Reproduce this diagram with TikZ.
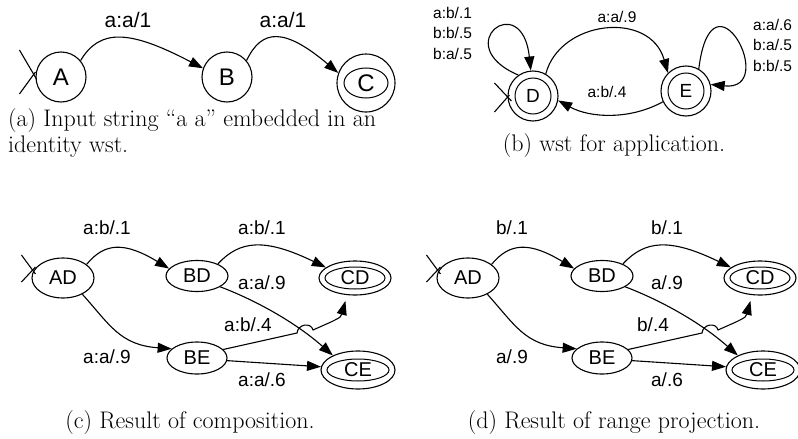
\documentclass[tikz,border=0pt]{standalone}
\usepackage{fontspec}
\setsansfont{Liberation Sans}
\usepackage{tikz}
\usetikzlibrary{arrows.meta,shapes.geometric}
\tikzset{
  wstnode/.style={draw, line width=1.1pt, inner sep=0pt},
  wststate/.style={wstnode, circle, minimum size=50pt},
  wstpair/.style={wstnode, ellipse, minimum width=62pt, minimum height=31pt},
  wstring/.style={wstnode, line width=1pt},
  wstedge/.style={-{Triangle[length=14pt,width=10pt]}, line width=1.1pt},
  wststart/.style={line width=1.1pt},
  wstafont/.style={font=\sffamily\fontsize{24}{24}\selectfont},
  wstbfont/.style={font=\sffamily\fontsize{19}{19}\selectfont},
  wstcfont/.style={font=\sffamily\fontsize{20}{20}\selectfont},
  wstalabel/.style={inner sep=0pt, font=\sffamily\fontsize{21}{21}\selectfont},
  wstblabel/.style={inner sep=0pt, font=\sffamily\fontsize{15.5}{20.5}\selectfont},
  wstclabel/.style={inner sep=0pt, font=\sffamily\fontsize{19}{19}\selectfont},
  wstcaption/.style={inner sep=0pt, font=\fontsize{24}{26}\selectfont},
}
\begin{document}
\begin{tikzpicture}[x=1pt,y=-1pt]
  \useasboundingbox (0,0) rectangle (798,439);

  % (a) input string
  \node[wststate, wstafont] (A) at (61,77) {A};
  \node[wststate, wstafont] (B) at (227,77) {B};
  \node[wststate, wstafont, minimum size=58pt] (C) at (366,83) {C};
  \node[wstring, ellipse, minimum width=44pt, minimum height=30pt] (Cring) at (C) {};
  \draw[wststart] ([shift={(-16,-27)}]A.west) -- ([shift={(1,2)}]A.west);
  \draw[wststart] ([shift={(-16,17)}]A.west) -- ([shift={(0,-5)}]A.west);
  \draw[wstedge] (A.40) .. controls (100,28) and (130,30) .. (B.160);
  \draw[wstedge] (B.40) .. controls (262,28) and (285,28) .. (C.160);
  \node[wstalabel] at (128,20) {a:a/1};
  \node[wstalabel] at (283,20) {a:a/1};
  \node[wstcaption, align=left, anchor=base west] (capa) at (8,152)
    {(a) Input string “a a” embedded in an\\identity wst.};

  % (b) wst for application
  \node[wststate, wstbfont] (D) at (533,96) {D};
  \node[wstring, circle, minimum size=36pt] (Dring) at (D) {};
  \node[wststate, wstbfont] (E) at (686,91) {E};
  \node[wstring, circle, minimum size=36pt] (Ering) at (E) {};
  \draw[wststart] ([shift={(-13,-13)}]D.west) -- ([shift={(4,5)}]D.west);
  \draw[wststart] ([shift={(-13,16)}]D.west) -- ([shift={(2,-1)}]D.west);
  \draw[wstedge] (D.125) .. controls (448,45) and (522,-12) .. (D.95);
  \draw[wstedge] (D.60) .. controls (560,20) and (650,10) .. (E.135);
  \draw[wstedge] (E.205) .. controls (630,120) and (590,118) .. (D.350);
  \draw[wstedge] (E.60) .. controls (712,-38) and (780,92) .. (E.15);
  \node[wstblabel, align=left, anchor=west] at (433,33) {a:b/.1\\b:b/.5\\b:a/.5};
  \node[wstblabel, align=left, anchor=west] at (753,45) {a:a/.6\\b:a/.5\\b:b/.5};
  \node[wstblabel] at (617,17) {a:a/.9};
  \node[wstblabel] at (607,92) {a:b/.4};
  \node[wstcaption, anchor=base] (capb) at (614,151) {(b) wst for application.};

  % (c) composition
  \node[wstpair, wstcfont, minimum height=40pt] (cAD) at (63,278) {AD};
  \node[wstpair, wstcfont] (cBD) at (197,276) {BD};
  \node[wstpair, wstcfont, minimum width=72pt, minimum height=34pt] (cCD) at (355,278) {CD};
  \node[wstring, ellipse, minimum width=60pt, minimum height=22pt] (cCDring) at (cCD) {};
  \node[wstpair, wstcfont, minimum width=60pt, minimum height=32pt] (cBE) at (197,358) {BE};
  \node[wstpair, wstcfont, minimum width=74pt, minimum height=38pt] (cCE) at (358,370) {CE};
  \node[wstring, ellipse, minimum width=62pt, minimum height=22pt] (cCEring) at (cCE) {};
  \draw[wststart] ([shift={(-10,-23)}]cAD.west) -- ([shift={(4,-4)}]cAD.west);
  \draw[wststart] ([shift={(-10,4)}]cAD.west) -- ([shift={(4,-11)}]cAD.west);
  \draw[wstedge] (cAD.30) .. controls (105,242) and (125,242) .. (cBD.165);
  \draw[wstedge] (cBD.30) .. controls (240,240) and (265,238) .. (cCD.160);
  \draw[wstedge] (cBD.-25) .. controls (255,300) and (295,322) .. (cCE.150);
  \draw[wstedge, shorten >=6pt] (cBE.18) -- (297,333) .. controls (298,324) and (311,322) .. (313,330)
    -- (331,322) .. controls (341,317) .. (cCD.-115);
  \draw[wstedge] (cBE.-5) -- (cCE.175);
  \draw[wstedge] (cAD.-40) .. controls (110,325) and (120,345) .. (cBE.160);
  \node[wstclabel] at (107,228) {a:b/.1};
  \node[wstclabel] at (262,228) {a:b/.1};
  \node[wstclabel] at (262,283) {a:a/.9};
  \node[wstclabel] at (248,325) {a:b/.4};
  \node[wstclabel] at (107,357) {a:a/.9};
  \node[wstclabel] at (262,380) {a:a/.6};
  \node[wstcaption, anchor=base] (capc) at (190,428) {(c) Result of composition.};

  % (d) range projection
  \begin{scope}[xshift=405pt]
  \node[wstpair, wstcfont, minimum height=40pt] (dAD) at (63,278) {AD};
  \node[wstpair, wstcfont] (dBD) at (197,276) {BD};
  \node[wstpair, wstcfont, minimum width=72pt, minimum height=34pt] (dCD) at (355,278) {CD};
  \node[wstring, ellipse, minimum width=60pt, minimum height=22pt] (dCDring) at (dCD) {};
  \node[wstpair, wstcfont, minimum width=60pt, minimum height=32pt] (dBE) at (197,358) {BE};
  \node[wstpair, wstcfont, minimum width=74pt, minimum height=38pt] (dCE) at (358,370) {CE};
  \node[wstring, ellipse, minimum width=62pt, minimum height=22pt] (dCEring) at (dCE) {};
  \draw[wststart] ([shift={(-10,-23)}]dAD.west) -- ([shift={(4,-4)}]dAD.west);
  \draw[wststart] ([shift={(-10,4)}]dAD.west) -- ([shift={(4,-11)}]dAD.west);
  \draw[wstedge] (dAD.30) .. controls (105,242) and (125,242) .. (dBD.165);
  \draw[wstedge] (dBD.30) .. controls (240,240) and (265,238) .. (dCD.160);
  \draw[wstedge] (dBD.-25) .. controls (255,300) and (295,322) .. (dCE.150);
  \draw[wstedge, shorten >=6pt] (dBE.18) -- (297,333) .. controls (298,324) and (311,322) .. (313,330)
    -- (331,322) .. controls (341,317) .. (dCD.-115);
  \draw[wstedge] (dBE.-5) -- (dCE.175);
  \draw[wstedge] (dAD.-40) .. controls (110,325) and (120,345) .. (dBE.160);
  \node[wstclabel] at (107,228) {b/.1};
  \node[wstclabel] at (262,228) {b/.1};
  \node[wstclabel] at (262,283) {a/.9};
  \node[wstclabel] at (248,325) {b/.4};
  \node[wstclabel] at (107,357) {a/.9};
  \node[wstclabel] at (262,380) {a/.6};
  \node[wstcaption, anchor=base] (capd) at (209,428) {(d) Result of range projection.};
  \end{scope}
\end{tikzpicture}
\end{document}
